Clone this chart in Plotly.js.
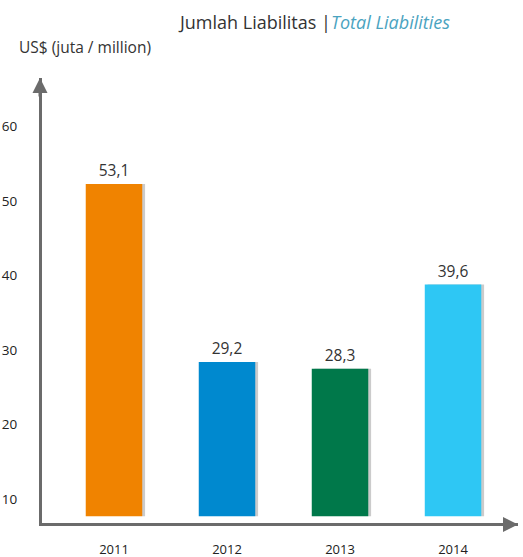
<!DOCTYPE html>
<html>
<head>
<meta charset="utf-8">
<script src="https://cdn.plot.ly/plotly-3.0.1.min.js"></script>
<style>html,body{margin:0;padding:0;background:#fff;}#chart{width:523px;height:557px;}</style>
</head>
<body>
<div id="chart"></div>
<script>
const years = ['2011', '2012', '2013', '2014'];
const liabilities = [53.1, 29.2, 28.3, 39.6];
const barColors = ['#F08300', '#0089CF', '#00784A', '#2EC7F4'];
const tickVals = [10, 20, 30, 40, 50, 60];
const titleMain = 'Jumlah Liabilitas |';
const titleEn = 'Total Liabilities';
const unitLabel = 'US$ (juta / million)';

const FONT = '"Open Sans", "Noto Sans", sans-serif';
const labels = liabilities.map(v => v.toFixed(1).replace('.', ','));
const xIdx = years.map((_, i) => i);

const shadow = {
  type: 'bar', x: xIdx, y: liabilities,
  width: 0.5, offset: -0.225,
  marker: {color: 'rgba(140,140,140,0.45)'},
  hoverinfo: 'skip', showlegend: false
};
const bars = {
  type: 'bar', x: xIdx, y: liabilities,
  width: 0.5, offset: -0.25,
  marker: {color: barColors},
  text: labels, textposition: 'outside', cliponaxis: false,
  textfont: {family: FONT, size: 15.5, color: '#333'},
  showlegend: false
};

const layout = {
  width: 523, height: 557,
  margin: {l: 42, r: 5, t: 78, b: 34},
  paper_bgcolor: '#fff', plot_bgcolor: '#fff',
  barmode: 'overlay',
  font: {family: FONT, color: '#333'},
  title: {
    text: titleMain + '<i><span style="color:#4AA3BF">' + titleEn + '</span></i>',
    font: {family: FONT, size: 18, color: '#333'},
    xref: 'paper', x: 0.5735, xanchor: 'center',
    yref: 'container', y: 0.959, yanchor: 'middle'
  },
  xaxis: {
    range: [-0.637, 3.575],
    tickvals: xIdx, ticktext: years,
    showgrid: false, zeroline: false,
    showline: true, linecolor: '#6b6b6b', linewidth: 3,
    ticks: '', ticklabelstandoff: 12,
    tickfont: {family: FONT, size: 13, color: '#222'},
    fixedrange: true
  },
  yaxis: {
    range: [7.6, 67.33],
    tickvals: tickVals,
    showgrid: false, zeroline: false,
    showline: true, linecolor: '#6b6b6b', linewidth: 3,
    ticks: '', ticklabelstandoff: 19, ticklabelshift: -6,
    tickfont: {family: FONT, size: 13.5, color: '#222'},
    fixedrange: true
  },
  shapes: [
    {type: 'rect', xref: 'paper', yref: 'y', x0: 0, x1: 1, y0: 7.6, y1: 8.5,
     fillcolor: '#fff', line: {width: 0}, layer: 'above'}
  ],
  annotations: [
    {xref: 'paper', yref: 'paper', x: -0.0042, y: 1.0, ax: 0, ay: 20,
     showarrow: true, arrowhead: 2, arrowsize: 1, arrowwidth: 3, arrowcolor: '#6b6b6b', text: '', standoff: 0},
    {xref: 'paper', yref: 'paper', x: 1.0, y: -0.0035, ax: -20, ay: 0,
     showarrow: true, arrowhead: 2, arrowsize: 1, arrowwidth: 3, arrowcolor: '#6b6b6b', text: '', standoff: 0},
    {xref: 'paper', yref: 'paper', x: -0.0525, y: 1.0697, xanchor: 'left', yanchor: 'middle',
     text: unitLabel, showarrow: false, font: {family: FONT, size: 15.5, color: '#333'}}
  ]
};

Plotly.newPlot('chart', [shadow, bars], layout, {displayModeBar: false, staticPlot: true});
</script>
</body>
</html>
